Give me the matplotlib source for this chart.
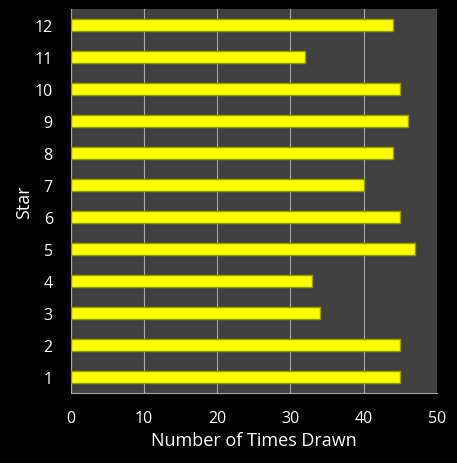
import matplotlib
matplotlib.use("Agg")
from matplotlib import pyplot as plt
import numpy as np

stars = ["1", "2", "3", "4", "5", "6", "7", "8", "9", "10", "11", "12"]
times_drawn = [45, 45, 34, 33, 47, 45, 40, 44, 46, 45, 32, 44]
x_ticks = [0, 10, 20, 30, 40, 50]

plt.rcParams['font.family'] = ['Open Sans', 'DejaVu Sans']

fig = plt.figure(figsize=(4.57, 4.64), dpi=100, facecolor='black')
ax = fig.add_axes([0.155, 0.151, 0.801, 0.827])
ax.set_facecolor('#404040')

y = np.arange(len(stars))
ax.barh(y, times_drawn, height=0.37, color='#ffff00', edgecolor='#9a9a00', linewidth=1.0, zorder=3)

ax.set_xlim(0, 50)
ax.set_ylim(-0.5, len(stars) - 0.5)
ax.set_xticks(x_ticks)
ax.set_yticks(y)
ax.set_yticklabels(stars)
ax.xaxis.grid(True, color='#a8a8a8', linewidth=0.8, zorder=0)
ax.set_axisbelow(True)

for side in ['top', 'right']:
    ax.spines[side].set_visible(False)
for side in ['left', 'bottom']:
    ax.spines[side].set_color('#a8a8a8')
    ax.spines[side].set_linewidth(0.8)

ax.tick_params(colors='white', labelsize=11.5, length=0)
ax.tick_params(axis='x', pad=12)
ax.tick_params(axis='y', pad=13)
ax.set_xlabel('Number of Times Drawn', color='white', fontsize=13, labelpad=4)
ax.set_ylabel('Star', color='white', fontsize=13, labelpad=1)

plt.savefig('out.png', dpi=100, facecolor='black')
